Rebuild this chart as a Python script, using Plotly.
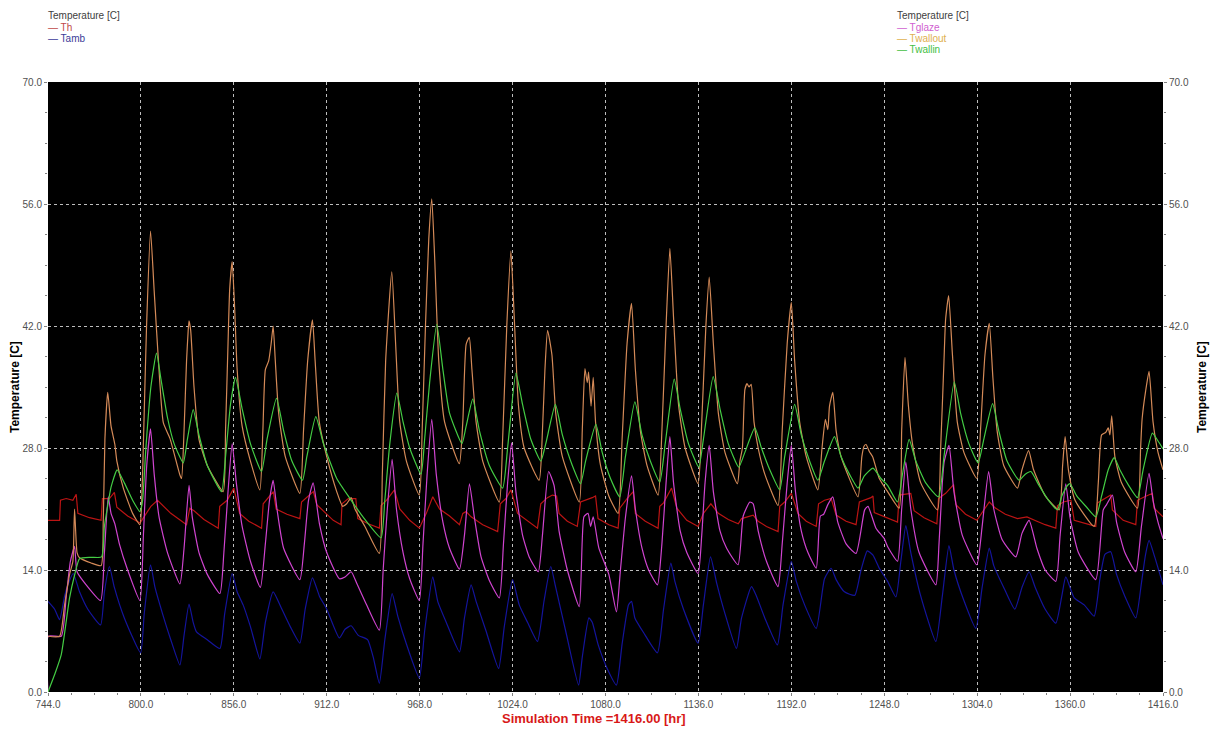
import plotly.graph_objects as go

# ---- Simulation output: hour of year vs temperature [C] ----
th_hours = [744, 751, 751.5, 755, 759, 761, 762, 769, 776, 776.8, 781, 784, 785.5, 792, 799.5, 803, 806, 810, 818,
            827.5, 829.5, 832, 838, 846.6, 847.5, 852, 856, 859.5, 865, 872.7, 873.7, 879.8, 881.5, 888, 895.8, 896.8,
            903.9, 906, 915.9, 920.6, 921.2, 925, 929.5, 930.7, 937, 943.7, 944.7, 948, 952.8, 956, 962, 967.8, 972,
            975.9, 980, 986, 992, 994, 996, 999, 1006, 1015, 1016.6, 1020, 1023, 1027, 1033, 1039, 1041, 1045, 1048,
            1050.5, 1052, 1057, 1063, 1065, 1072, 1074, 1075.5, 1082, 1087.6, 1088.6, 1093, 1096.7, 1098, 1104, 1111.7,
            1112.7, 1115, 1119.8, 1123, 1129, 1135.8, 1139, 1143.5, 1148, 1154, 1160, 1162, 1169, 1172, 1177, 1184,
            1185, 1188, 1192, 1196, 1201, 1207, 1208.4, 1212, 1216, 1219, 1225, 1231, 1233, 1240, 1241.2, 1242, 1248,
            1256, 1257, 1264, 1266, 1272, 1279.7, 1280.7, 1285, 1289.8, 1291.2, 1297, 1303.8, 1307, 1311.3, 1315, 1321,
            1328.3, 1334, 1340, 1345, 1351.4, 1352.4, 1356, 1360.5, 1362.5, 1368, 1375.5, 1376.5, 1381, 1384.5, 1385.5,
            1392, 1399.6, 1400.6, 1405, 1409.6, 1410.6, 1416]
th_values = [19.7, 19.7, 22.0, 22.2, 22.0, 22.7, 20.5, 20.0, 19.7, 22.2, 22.2, 22.9, 21.2, 20.2, 19.4, 20.5, 21.3, 22.0,
             20.5, 19.2, 21.1, 20.8, 19.8, 18.8, 21.3, 22.0, 23.4, 20.5, 19.6, 18.8, 21.6, 23.0, 21.0, 20.4, 19.9, 21.8,
             23.0, 21.5, 19.7, 19.2, 21.6, 22.2, 22.2, 19.9, 19.3, 18.8, 21.4, 22.0, 23.2, 21.0, 19.7, 18.8, 20.5,
             22.4, 21.0, 20.2, 19.2, 20.5, 20.7, 20.1, 19.2, 18.4, 21.6, 22.2, 23.2, 20.5, 19.6, 18.8, 21.6, 22.3, 22.6,
             22.5, 20.5, 19.6, 19.0, 21.8, 22.3, 22.5, 19.9, 19.2, 18.8, 21.1, 22.2, 23.0, 20.5, 19.6, 18.8,
             21.3, 21.7, 23.4, 21.1, 19.7, 19.0, 20.5, 21.6, 20.5, 19.8, 19.3, 19.9, 20.3, 19.6, 19.0, 18.4,
             21.3, 21.8, 22.8, 20.5, 19.6, 19.0, 21.6, 22.0, 22.2, 20.3, 19.6, 19.2, 21.8, 22.3, 22.5, 20.6, 20.1,
             19.5, 22.6, 22.8, 20.8, 20.0, 19.3, 22.2, 22.8, 23.8, 21.5, 20.4, 19.7, 20.6, 21.8, 21.1, 20.4,
             19.9, 20.1, 19.6, 19.2, 18.8, 21.4, 21.8, 22.0, 19.7, 19.4, 19.0, 21.7, 22.2, 22.6, 20.9,
             19.7, 19.2, 22.0, 22.4, 22.8, 21.1, 20.1]

tamb_hours = [744, 748, 751, 754, 756, 759.2, 763, 768, 775.7, 778, 781, 784, 790, 799.8, 802, 805.8, 808.5, 813, 818,
              823.5, 826, 829, 831.5, 833.5, 840, 847.6, 850.5, 855, 858, 861.6, 866, 871.7, 875, 879.7, 884.7, 890,
              895.8, 899, 903.4, 907.6, 912, 919.6, 923, 926.7, 931, 936.6, 940, 943.7, 947, 951.4, 954.8, 960, 967.8,
              971, 975.9, 978.9, 984, 992, 995, 999, 1002, 1008, 1015.6, 1019, 1024, 1028, 1033, 1039, 1043, 1047,
              1050, 1056, 1063.8, 1066, 1070, 1072, 1075.6, 1081, 1086.6, 1090, 1093.9, 1095.7, 1097.7, 1103, 1111.3,
              1115, 1119.4, 1121.8, 1127, 1135.8, 1139, 1143.3, 1147, 1152, 1158.9, 1162, 1168, 1171, 1176, 1183.6,
              1187, 1192, 1195, 1200, 1207, 1212, 1216, 1219, 1224, 1230.2, 1234, 1237.8, 1241.2, 1245, 1250, 1255,
              1258, 1261, 1264, 1270, 1279.1, 1283, 1287, 1290, 1296, 1303.2, 1307, 1311.3, 1314, 1320, 1326.7, 1331,
              1335.3, 1339, 1345, 1351.4, 1355, 1357.4, 1362.5, 1368.5, 1374.5, 1378, 1381, 1384.5, 1388, 1393,
              1399.6, 1403, 1405.5, 1407.6, 1411, 1416]
tamb_values = [10.4, 9.5, 8.3, 11.0, 12.3, 13.6, 11.5, 9.5, 7.7, 11.5, 14.4, 12.0, 8.5, 4.5, 9.0, 14.6, 12.0, 9.0, 6.0,
               3.1, 6.5, 10.1, 8.0, 6.9, 6.0, 5.0, 9.0, 13.6, 11.5, 10.0, 7.5, 3.8, 8.0, 11.5, 9.6, 7.5,
               5.6, 9.5, 13.1, 11.0, 9.5, 6.2, 7.2, 7.6, 6.5, 6.0, 4.0, 1.0, 6.0, 11.3, 8.7, 5.5, 1.6,
               7.0, 13.2, 10.4, 8.0, 4.6, 8.5, 12.3, 10.4, 7.0, 2.7, 7.5, 12.9, 10.0, 8.0, 5.8, 10.5, 14.4,
               12.0, 7.0, 0.8, 4.0, 8.5, 8.0, 5.4, 2.7, 0.8, 5.5, 10.0, 10.4, 8.5, 6.8, 4.5,
               9.5, 14.8, 12.7, 9.5, 5.6, 10.0, 15.5, 12.5, 9.0, 5.0, 8.5, 12.1, 11.0, 8.5, 5.4,
               10.0, 15.0, 12.7, 10.0, 7.3, 13.0, 14.2, 12.9, 11.5, 11.1, 14.0, 16.2, 15.7, 14.2, 12.7, 10.9,
               15.0, 19.1, 16.0, 11.0, 5.8, 11.0, 16.8, 14.0, 10.5, 7.3, 12.0, 16.5, 14.5, 12.0, 9.5, 12.0,
               13.8, 12.0, 9.5, 7.9, 11.0, 13.2, 10.8, 10.0, 8.7, 13.0, 15.8, 16.1, 13.5, 11.0,
               8.5, 12.5, 15.8, 17.4, 15.5, 12.3]

tglaze_hours = [744, 744.2, 752, 755, 757.5, 760, 761.5, 767, 775.7, 778, 780.3, 782, 784.3, 787, 792, 799.4, 801.5,
                803.5, 805.8, 808, 811, 816, 823.5, 826, 829, 831, 835, 840, 847.6, 850, 852.5, 855, 857.5, 861, 866,
                872, 875, 877.5, 879.7, 882, 886, 895.8, 898.5, 901, 903.8, 907.6, 912, 919.6, 923, 926.7, 930, 936,
                943.7, 946, 948.5, 951.4, 954, 958, 962, 967.8, 970, 972.5, 975.3, 978, 982, 986, 992, 995, 998, 1001,
                1005, 1010, 1016, 1018.5, 1021, 1023.4, 1026, 1030, 1034, 1039.5, 1042, 1045.7, 1049, 1052, 1057,
                1064.2, 1067, 1069.5, 1071, 1072.6, 1076, 1082, 1086.6, 1089, 1092, 1095.7, 1098, 1102, 1106, 1111.3,
                1114, 1116.5, 1118.8, 1121, 1125, 1129, 1135.8, 1138, 1140, 1142.5, 1145, 1149, 1153, 1159.9, 1163,
                1167, 1169, 1172, 1177, 1184, 1186.5, 1189.5, 1192, 1194.5, 1198, 1202, 1207, 1209.5, 1211.5, 1214,
                1217, 1220, 1225, 1231, 1236.2, 1238.2, 1243, 1248, 1250, 1256, 1258.5, 1261, 1264, 1269, 1279.1, 1281,
                1283, 1284.1, 1287, 1290, 1295, 1303.8, 1307, 1310.9, 1314, 1319, 1327.3, 1331, 1335.3, 1340, 1345,
                1351.4, 1354, 1357.4, 1360, 1365, 1375.5, 1380, 1382, 1385.5, 1388, 1393, 1399.6, 1403, 1407.6, 1410,
                1413, 1416]
tglaze_values = [0.0, 6.4, 6.4, 11.0, 15.0, 16.7, 13.8, 12.3, 10.5, 16.0, 22.4, 20.5, 19.3, 17.0, 14.0, 10.5, 18.0,
                 26.0, 30.2, 25.0, 20.0, 16.0, 12.4, 16.5, 23.7, 20.0, 16.0, 13.5, 11.3, 16.0, 23.0, 28.5, 24.0, 19.0, 15.0,
                 12.0, 17.0, 22.0, 24.3, 21.0, 16.5, 12.9, 17.0, 22.0, 24.0, 19.3, 16.0, 13.0, 13.2, 13.8, 12.5, 10.0,
                 7.1, 14.0, 21.0, 26.7, 21.0, 16.0, 13.0, 10.5, 17.0, 25.0, 31.3, 25.0, 19.5, 16.5, 14.1, 18.0, 23.9, 20.0,
                 15.5, 12.8, 10.8, 17.0, 24.0, 28.6, 23.0, 18.0, 15.5, 13.8, 18.0, 25.3, 23.7, 18.5, 14.0,
                 9.8, 20.1, 20.5, 19.0, 20.1, 16.5, 13.5, 9.2, 14.0, 20.0, 24.8, 21.0, 16.5, 14.0, 12.3,
                 17.0, 24.0, 29.3, 24.0, 18.5, 16.0, 13.6, 18.0, 24.0, 28.3, 23.0, 18.5, 16.5, 14.6, 20.2,
                 21.8, 21.6, 18.5, 15.0, 12.1, 17.0, 24.0, 28.3, 23.0, 18.5, 16.0, 14.2, 20.2, 20.4, 21.5,
                 22.4, 19.5, 17.0, 15.9, 20.9, 21.3, 18.8, 17.6, 16.7, 15.0, 21.0, 26.4, 21.0, 16.0, 12.3, 17.0,
                 24.0, 26.4, 28.3, 23.0, 18.0, 14.6, 19.0, 25.3, 21.0, 17.5, 15.5, 18.2, 19.7, 16.5, 14.0,
                 12.7, 18.0, 23.9, 20.0, 16.0, 12.9, 20.9, 21.5, 22.6, 19.5, 16.0, 13.8, 19.0, 25.1, 22.0,
                 19.5, 17.6]

twallout_hours = [744, 751, 754, 757, 759, 760, 761.5, 763, 770, 776, 777.3, 778.3, 780, 782, 784.3, 785.5, 789.4, 795,
                  799.4, 800.5, 801.4, 803.4, 805.8, 808, 810.4, 813.5, 817.5, 823.5, 824.5, 826, 827.5, 828.5, 829,
                  830, 832, 835, 840, 849.6, 851, 852.5, 853.5, 855, 856.5, 858, 861, 866, 871.7, 873.5, 875, 877,
                  878.5, 879.7, 881, 883, 887, 895.8, 898, 900.5, 903.4, 905, 907.5, 912, 918, 921.6, 924, 926.7, 929,
                  935, 943.7, 945.5, 947.5, 951.2, 953.5, 956, 960, 967.8, 969.5, 971.5, 973.5, 975.3, 977, 979.5, 983,
                  991.9, 994, 996, 997.9, 999.5, 1002, 1006, 1016, 1018, 1020.5, 1023, 1025, 1027.5, 1031, 1040, 1042,
                  1043.5, 1045.1, 1047.7, 1050, 1054, 1064.2, 1066, 1067.6, 1069, 1069.8, 1071.3, 1072.6, 1074, 1077,
                  1082, 1087.6, 1090, 1093, 1095.7, 1098, 1101, 1105, 1111.7, 1114, 1116.5, 1118.8, 1121, 1124, 1128,
                  1135.8, 1138, 1140.5, 1142.5, 1145, 1148, 1152, 1159.5, 1161, 1162.5, 1164, 1165.3, 1166.5, 1167.8,
                  1169.5, 1172, 1176, 1184, 1186.5, 1189.5, 1192, 1194, 1197, 1201, 1208, 1210.5, 1212.5, 1214, 1215,
                  1217, 1219, 1222, 1232.2, 1234.5, 1235.8, 1237, 1239, 1241, 1245, 1250, 1257, 1258.5, 1260.5, 1262.5,
                  1265, 1270, 1280.1, 1282, 1284, 1285, 1286.8, 1289, 1292, 1296, 1303.8, 1306, 1308.7, 1311.3, 1313.5,
                  1316, 1320, 1328.3, 1331, 1335, 1338, 1345, 1353.4, 1355.5, 1357, 1359, 1363, 1374.5, 1377, 1379,
                  1381.5, 1383, 1384, 1385.1, 1387, 1391, 1400.6, 1402.5, 1403.4, 1405.5, 1407.6, 1410, 1413, 1416]
twallout_values = [6.4, 6.4, 10.0, 13.5, 15.0, 21.0, 16.0, 15.4, 14.8, 14.5, 19.5, 29.0, 34.4, 30.5, 28.4, 26.5, 23.4,
                   20.5, 19.2, 22.0, 27.8, 42.0, 52.9, 46.0, 38.5, 30.9, 29.1, 24.9, 24.5, 30.0, 38.0, 41.5, 42.6,
                   41.5, 35.0, 29.0, 26.0, 23.0, 30.0, 40.0, 46.2, 49.4, 44.0, 37.0, 30.5, 26.5, 23.2, 30.0, 37.0, 38.0,
                   40.0, 42.0, 38.0, 32.0, 27.0, 22.8, 30.0, 38.0, 42.7, 38.0, 31.0, 27.0, 23.0, 21.3, 21.6, 22.3, 21.0,
                   19.0, 15.9, 25.0, 38.0, 48.2, 40.0, 31.0, 26.5, 22.6, 30.0, 42.0, 52.0, 56.6, 50.0, 38.0, 31.0,
                   26.2, 31.0, 39.9, 40.7, 37.0, 31.0, 26.5, 21.8, 29.0, 42.0, 50.6, 43.0, 33.0, 28.0, 24.3, 30.0,
                   37.0, 41.5, 38.7, 32.0, 27.0, 21.8, 30.0, 37.1, 35.5, 36.7, 32.8, 36.1, 31.0, 26.0,
                   22.5, 20.5, 29.0, 40.0, 44.6, 37.0, 30.0, 26.0, 22.6, 30.0, 42.0, 50.9, 43.0, 33.0, 28.0,
                   23.9, 31.0, 42.0, 47.6, 40.0, 32.0, 27.5, 23.9, 26.5, 28.0, 34.7, 35.4, 35.0, 35.3,
                   31.0, 28.0, 25.0, 21.4, 30.0, 40.0, 44.7, 38.0, 31.0, 27.0, 23.2, 28.0, 31.3, 30.1, 32.8,
                   34.4, 30.0, 27.0, 22.4, 27.0, 28.2, 28.4, 27.6, 27.0, 24.5, 23.0, 21.1, 30.0, 38.4, 33.0,
                   28.5, 24.0, 20.9, 28.0, 38.0, 42.8, 45.5, 39.0, 31.0, 27.5, 24.5, 30.0, 38.7, 42.3, 36.0,
                   30.0, 26.0, 23.4, 25.5, 27.7, 25.5, 22.5, 20.9, 26.0, 29.3, 25.5, 22.0, 19.0, 24.0, 29.5,
                   29.8, 30.3, 29.5, 31.7, 27.0, 24.0, 21.1, 28.0, 31.3, 34.5, 36.8, 31.0, 27.5, 25.5]

twallin_hours = [744, 748, 752, 757, 760, 763, 770, 776.3, 778, 780, 782, 785.7, 790, 795, 799.4, 801, 803, 806, 809.4,
                 812, 816, 820, 825.5, 828, 831.5, 835, 840, 848.6, 851, 854, 857, 861, 866, 872.7, 876, 881.7, 886,
                 891, 897.4, 900, 905.4, 910, 918, 926, 935, 944.7, 947, 950, 954.2, 958, 962, 968.8, 971, 974, 978.3,
                 982, 986, 993.5, 996, 1000, 1004, 1010, 1018, 1021, 1026, 1030, 1035, 1041, 1044, 1049.8, 1054, 1060,
                 1065, 1068, 1074.2, 1078, 1083, 1088.6, 1092, 1097.7, 1102, 1107, 1112.7, 1116, 1121.4, 1125, 1130,
                 1136.2, 1139, 1144.9, 1149, 1154, 1160.3, 1164, 1170, 1174, 1179, 1185, 1188, 1194, 1198, 1203, 1208,
                 1212, 1218, 1222, 1227, 1232.2, 1236, 1241.2, 1246, 1250, 1256, 1259, 1263, 1267, 1273, 1280.7, 1284,
                 1290.2, 1294, 1299, 1304.6, 1308, 1313.3, 1317, 1322, 1329.3, 1333, 1336.4, 1341, 1347, 1352.4, 1355,
                 1358.4, 1360, 1364, 1370, 1375.5, 1379, 1383, 1386.6, 1390, 1395, 1400.6, 1404, 1409.6, 1413, 1416]
twallin_values = [0.0, 2.0, 4.3, 10.8, 13.4, 15.3, 15.45, 15.5, 19.0, 21.4, 23.5, 25.5, 24.0, 22.0, 20.7, 22.0, 28.0,
                  35.0, 38.9, 36.0, 31.5, 28.5, 26.3, 29.0, 32.4, 29.5, 26.0, 23.0, 27.0, 33.0, 36.1, 32.5, 28.5, 25.3,
                  29.0, 33.7, 30.0, 26.5, 24.3, 27.0, 31.6, 28.5, 24.5, 22.2, 19.8, 17.7, 22.0, 28.5, 34.3, 31.0, 28.0,
                  25.0, 29.0, 35.5, 42.2, 37.0, 32.0, 28.5, 30.5, 33.6, 30.0, 26.0, 23.4, 28.0, 36.6, 33.0, 29.0, 26.5,
                  28.5, 33.0, 29.5, 26.0, 23.9, 26.5, 30.7, 27.5, 24.5, 22.4, 27.0, 33.3, 29.5, 26.5, 24.1, 28.5, 35.9,
                  32.5, 28.5, 25.8, 29.0, 36.2, 32.5, 28.5, 25.8, 27.5, 30.3, 28.0, 25.5, 23.2, 27.0, 33.0, 29.5, 26.5,
                  24.3, 26.5, 29.3, 27.0, 25.0, 23.4, 24.8, 25.7, 24.5, 23.7, 21.8, 25.0, 29.0, 26.5, 24.0, 22.4, 27.0,
                  35.6, 32.0, 28.5, 26.3, 29.0, 33.1, 30.0, 26.5, 24.3, 25.0, 25.3, 23.8, 22.0, 20.9, 22.5, 23.7, 23.9,
                  22.5, 21.2, 20.1, 22.5, 25.5, 26.9, 25.5, 23.8, 22.3, 25.5, 29.7, 28.8, 27.9]

x_ticks = [744, 800, 856, 912, 968, 1024, 1080, 1136, 1192, 1248, 1304, 1360, 1416]
y_ticks = [0, 14, 28, 42, 56, 70]

# name, hours, values, colour, line shape
series = [
    ("Th", th_hours, th_values, "#bc1414", "linear"),
    ("Tamb", tamb_hours, tamb_values, "#14149c", "spline"),
    ("Tglaze", tglaze_hours, tglaze_values, "#d044d0", "spline"),
    ("Twallout", twallout_hours, twallout_values, "#d48a58", "spline"),
    ("Twallin", twallin_hours, twallin_values, "#44cc44", "spline"),
]

fig = go.Figure()
for name, hrs, vals, col, shape in series:
    fig.add_trace(go.Scatter(x=hrs, y=vals, mode="lines", name=name,
                             line=dict(color=col, width=1.2, shape=shape, smoothing=0.5),
                             showlegend=False))

# invisible trace to carry the right-hand temperature axis
fig.add_trace(go.Scatter(x=[744], y=[0], yaxis="y2", mode="markers",
                         marker=dict(opacity=0), showlegend=False, hoverinfo="skip"))

tick_font = dict(family="Liberation Sans, Arial, sans-serif", size=10, color="#505050")
grid_style = dict(showgrid=True, gridcolor="#bdbdbd", gridwidth=1, griddash="dot")

fig.update_layout(
    width=1216, height=731,
    margin=dict(l=48, r=53, t=82, b=39),
    paper_bgcolor="white", plot_bgcolor="black",
    xaxis=dict(range=[744, 1416], tickvals=x_ticks, tickformat=".1f", tickfont=tick_font,
               ticks="outside", ticklen=3, tickcolor="#808080", zeroline=False, showline=False,
               minor=dict(dtick=14, tick0=744, ticks="outside", ticklen=2, tickcolor="#808080", showgrid=False),
               **grid_style),
    yaxis=dict(range=[0, 70], tickvals=y_ticks, tickformat=".1f", tickfont=tick_font,
               ticks="outside", ticklen=3, tickcolor="#808080", zeroline=False, showline=False,
               minor=dict(dtick=3.5, tick0=0, ticks="outside", ticklen=2, tickcolor="#808080", showgrid=False),
               **grid_style),
    yaxis2=dict(range=[0, 70], overlaying="y", side="right", tickvals=y_ticks, tickformat=".1f",
                tickfont=tick_font, ticks="outside", ticklen=3, tickcolor="#808080", showgrid=False,
                zeroline=False, showline=False,
                minor=dict(dtick=3.5, tick0=0, ticks="outside", ticklen=2, tickcolor="#808080")),
    font=dict(family="Liberation Sans, Arial, sans-serif"),
)

def px_x(px):
    return (px - 48) / 1115.0

def px_y(py):
    return (692 - py) / 610.0

notes = [
    (46, 15, "Temperature [C]", "#404040"),
    (46, 27, "\u2014 Th", "#c04848"),
    (46, 38, "\u2014 Tamb", "#3c3c98"),
    (895, 15, "Temperature [C]", "#404040"),
    (895, 27, "\u2014 Tglaze", "#d060d0"),
    (895, 38, "\u2014 Twallout", "#e0b050"),
    (895, 50, "\u2014 Twallin", "#44c044"),
]
for px, py, txt, col in notes:
    fig.add_annotation(x=px_x(px), y=px_y(py), xref="paper", yref="paper", text=txt, showarrow=False,
                       xanchor="left", yanchor="middle",
                       font=dict(family="Liberation Sans, Arial, sans-serif", size=10, color=col))

fig.add_annotation(x=px_x(594), y=px_y(718), xref="paper", yref="paper",
                   text="<b>Simulation Time =1416.00 [hr]</b>", showarrow=False,
                   xanchor="center", yanchor="middle",
                   font=dict(family="Liberation Sans, Arial, sans-serif", size=13, color="#d81818"))
for px in (15, 1202):
    fig.add_annotation(x=px_x(px), y=0.5, xref="paper", yref="paper", text="<b>Temperature [C]</b>",
                       showarrow=False, textangle=-90, xanchor="center", yanchor="middle",
                       font=dict(family="Liberation Sans, Arial, sans-serif", size=12, color="black"))

fig.write_html("out.html")
